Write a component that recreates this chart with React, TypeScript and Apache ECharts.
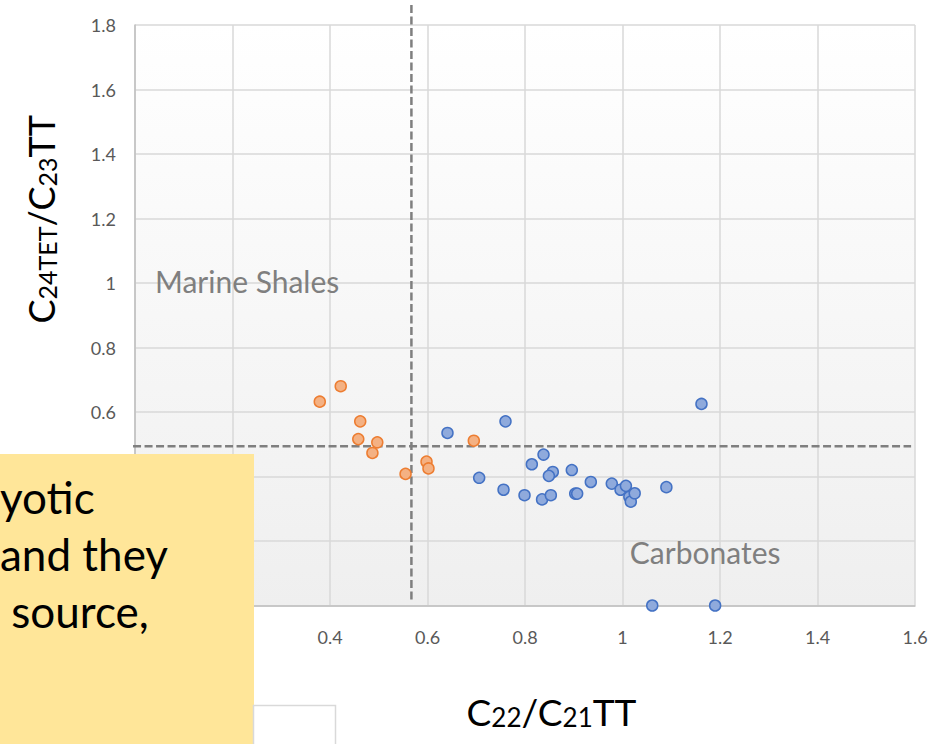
import { useEffect, useRef } from "react";
import * as echarts from "echarts";

// Axis ranges (C22/C21 tricyclic terpane ratio vs. C24 tetracyclic / C23 tricyclic ratio)
const X_MIN = 0;
const X_MAX = 1.6;
const X_STEP = 0.2;
const Y_MIN = 0;
const Y_MAX = 1.8;
const Y_STEP = 0.2;

// Tick values that sit under the call-out box and are not drawn
const xHiddenTicks = [0, 0.2];
const yHiddenTicks = [0, 0.2, 0.4];

// Marine shale samples
const shaleX = [0.379, 0.422, 0.462, 0.458, 0.497, 0.487, 0.555, 0.598, 0.602, 0.695];
const shaleY = [0.632, 0.68, 0.571, 0.516, 0.506, 0.473, 0.408, 0.446, 0.425, 0.511];

// Carbonate samples
const carbX = [
  0.641, 0.76, 0.706, 0.756, 0.799, 0.814, 0.838, 0.857, 0.849, 0.835, 0.853, 0.896, 0.903,
  0.907, 0.935, 0.978, 0.996, 1.007, 1.014, 1.017, 1.025, 1.09, 1.162, 1.061, 1.19,
];
const carbY = [
  0.535, 0.571, 0.396, 0.359, 0.342, 0.438, 0.468, 0.414, 0.402, 0.329, 0.342, 0.42, 0.347,
  0.347, 0.383, 0.378, 0.359, 0.371, 0.337, 0.322, 0.348, 0.367, 0.625, 0, 0,
];

// Field boundaries
const splitX = 0.567;
const splitY = 0.494;

// Field labels: [text, x, y] (left edge / vertical middle in data units)
const fieldLabels: [string, number, number][] = [
  ["Marine Shales", 0.041, 1.005],
  ["Carbonates", 1.015, 0.167],
];

// Call-out box lines
const noteLines = ["yotic", "and they", " source,"];

const FONT = "Lato, 'Open Sans', sans-serif";

const zip = (xs: number[], ys: number[]) => xs.map((x, i) => [x, ys[i]]);
const isHidden = (list: number[], v: number) => list.some((t) => Math.abs(t - v) < 1e-6);

export default function App() {
  const ref = useRef<HTMLDivElement>(null);

  useEffect(() => {
    if (!ref.current) return;
    const chart = echarts.init(ref.current, undefined, { renderer: "svg" });

    const big = { fontSize: 37, fontFamily: FONT, color: "#000", lineHeight: 44, verticalAlign: "bottom" as const };
    const small = { fontSize: 26, fontFamily: FONT, color: "#000", lineHeight: 44, verticalAlign: "bottom" as const };
    const yBig = { ...big, fontSize: 36 };
    const ySmall = { ...small, fontSize: 25 };

    chart.setOption({
      animation: false,
      backgroundColor: "#ffffff",
      grid: {
        left: 135,
        right: 20,
        top: 25,
        bottom: 138.5,
        show: true,
        borderWidth: 0,
        backgroundColor: new echarts.graphic.LinearGradient(0, 0, 0, 1, [
          { offset: 0, color: "#ffffff" },
          { offset: 1, color: "#efefef" },
        ]),
      },
      xAxis: {
        type: "value",
        min: X_MIN,
        max: X_MAX,
        interval: X_STEP,
        axisLine: { show: true, lineStyle: { color: "#bfbfbf", width: 1.5 } },
        axisTick: { show: false },
        splitLine: { show: true, lineStyle: { color: "#d9d9d9", width: 1.5 } },
        axisLabel: {
          color: "#595959",
          fontSize: 18,
          fontFamily: FONT,
          margin: 22,
          formatter: (v: number) => (isHidden(xHiddenTicks, v) ? "" : String(+v.toFixed(1))),
        },
        name: "{b|C}{s|22}{b|/C}{s|21}{b|TT}",
        nameLocation: "middle",
        nameGap: 80,
        nameTextStyle: { rich: { b: big, s: small }, padding: [0, 0, 0, 53] },
      },
      yAxis: {
        type: "value",
        min: Y_MIN,
        max: Y_MAX,
        interval: Y_STEP,
        axisLine: { show: true, lineStyle: { color: "#bfbfbf", width: 1.5 } },
        axisTick: { show: false },
        splitLine: { show: true, lineStyle: { color: "#d9d9d9", width: 1.5 } },
        axisLabel: {
          color: "#595959",
          fontSize: 18,
          fontFamily: FONT,
          margin: 19,
          formatter: (v: number) => (isHidden(yHiddenTicks, v) ? "" : String(+v.toFixed(1))),
        },
        name: "{b|C}{s|24TET}{b|/C}{s|23}{b|TT}",
        nameLocation: "middle",
        nameRotate: 90,
        nameGap: 76,
        nameTextStyle: { rich: { b: yBig, s: ySmall }, padding: [0, 0, 0, 192] },
      },
      series: [
        {
          name: "Marine Shales",
          type: "scatter",
          data: zip(shaleX, shaleY),
          symbolSize: 11,
          itemStyle: { color: "#f4b183", borderColor: "#ed7d31", borderWidth: 1.5, opacity: 1 },
          z: 4,
        },
        {
          name: "Carbonates",
          type: "scatter",
          data: zip(carbX, carbY),
          symbolSize: 11,
          itemStyle: { color: "#8faadc", borderColor: "#4472c4", borderWidth: 1.5, opacity: 1 },
          z: 4,
        },
      ],
    });

    const px = (x: number, y: number) => chart.convertToPixel({ gridIndex: 0 }, [x, y]) as number[];

    const vTop = px(splitX, 1.862);
    const vBot = px(splitX, 0.015);
    const hL = px(-0.004, splitY);
    const hR = px(1.592, splitY);
    const dash = { stroke: "#7f7f7f", lineWidth: 2.5, lineDash: [8, 3.5] };

    const graphic: any[] = [
      { type: "line", z: 3, shape: { x1: vTop[0], y1: vTop[1], x2: vBot[0], y2: vBot[1] }, style: dash },
      { type: "line", z: 3, shape: { x1: hL[0], y1: hL[1], x2: hR[0], y2: hR[1] }, style: dash },
      ...fieldLabels.map(([t, x, y]) => {
        const p = px(x, y);
        return {
          type: "text",
          z: 3,
          x: p[0],
          y: p[1],
          style: { text: t, fill: "#7f7f7f", fontSize: 30, fontFamily: FONT, align: "left", verticalAlign: "middle" },
        };
      }),
      { type: "rect", z: 100, shape: { x: 0, y: 454, width: 254, height: 300 }, style: { fill: "#ffe699" } },
      { type: "rect", z: 100, shape: { x: 253.5, y: 705.5, width: 82, height: 60 }, style: { fill: "#ffffff", stroke: "#d9d9d9", lineWidth: 1.5 } },
      ...noteLines.map((t, i) => ({
        type: "text",
        z: 101,
        x: 0,
        y: 497 + i * 57,
        style: { text: t, fill: "#000000", fontSize: 44, fontFamily: FONT, align: "left", verticalAlign: "middle" },
      })),
    ];
    chart.setOption({ graphic });

    return () => chart.dispose();
  }, []);

  return <div ref={ref} style={{ position: "absolute", left: 0, top: 0, width: 935, height: 744 }} />;
}
